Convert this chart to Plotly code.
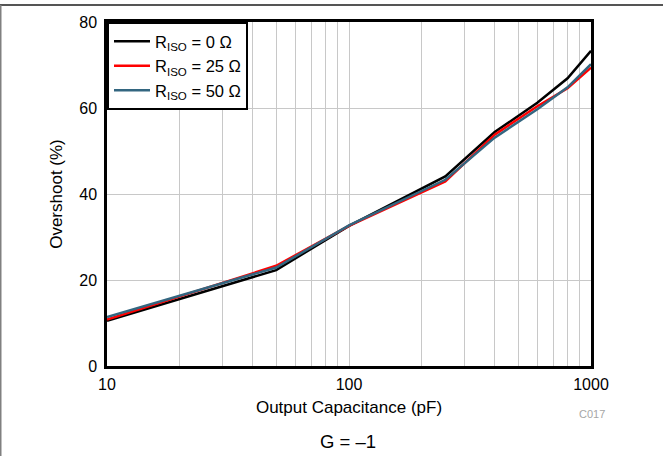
import plotly.graph_objects as go

cap_pf = [10, 50, 100, 250, 400, 600, 800, 1000]
os_r0 = [10.5, 22.3, 32.6, 44.1, 54.4, 61.2, 66.9, 73.3]
os_r25 = [10.8, 23.3, 32.6, 42.9, 53.8, 60.4, 64.6, 69.4]
os_r50 = [11.4, 22.9, 32.7, 43.3, 53.1, 59.7, 64.8, 70.2]

series_names = ["R<sub>ISO</sub> = 0 Ω", "R<sub>ISO</sub> = 25 Ω", "R<sub>ISO</sub> = 50 Ω"]
series_colors = ["#000000", "#ff0000", "#336680"]

x_major = [10, 100, 1000]
x_minor = [20, 30, 40, 50, 60, 70, 80, 90, 200, 300, 400, 500, 600, 700, 800, 900]
y_ticks = [0, 20, 40, 60, 80]

W, H = 663, 456
L, R, T, B = 107, 72, 22, 90
pw, ph = W - L - R, H - T - B

fig = go.Figure()
for ys, name, col in zip([os_r0, os_r25, os_r50], series_names, series_colors):
    fig.add_trace(go.Scatter(x=cap_pf, y=ys, mode="lines", name=name,
                             line=dict(color=col, width=2.5)))

font = "Liberation Sans, Arial, sans-serif"
fig.update_layout(
    width=W, height=H,
    margin=dict(l=L, r=R, t=T, b=B, pad=0),
    paper_bgcolor="white", plot_bgcolor="white",
    font=dict(family=font, size=16, color="black"),
    showlegend=True,
    legend=dict(x=0, y=1, xanchor="left", yanchor="top",
                bgcolor="white", bordercolor="black", borderwidth=2,
                font=dict(size=16.5), tracegroupgap=0, itemwidth=36,
                traceorder="normal"),
    xaxis=dict(type="log", range=[1, 3], tickvals=x_major, ticktext=["10", "100", "1000"],
               showgrid=True, gridcolor="#c8c8c8", gridwidth=1,
               minor=dict(tickvals=x_minor, showgrid=True, gridcolor="#c8c8c8", gridwidth=1, ticks=""),
               showline=True, linecolor="black", linewidth=2.5, mirror=True,
               ticks="", ticklen=0, tickfont=dict(size=16), ticklabelstandoff=2,
               title=dict(text="Output Capacitance (pF)", font=dict(size=17), standoff=10),
               zeroline=False),
    yaxis=dict(range=[0, 80], tickvals=y_ticks,
               showgrid=True, gridcolor="#c8c8c8", gridwidth=1,
               showline=True, linecolor="black", linewidth=2.5, mirror=True,
               ticks="", tickfont=dict(size=16), ticklabelstandoff=4,
               title=dict(text="Overshoot (%)", font=dict(size=17), standoff=13),
               zeroline=False),
)

fig.add_annotation(text="G = –1", xref="paper", yref="paper", x=(348 - L) / pw, y=-(441 - 366) / ph,
                   showarrow=False, font=dict(size=18.5), xanchor="center", yanchor="middle")
fig.add_annotation(text="C017", xref="paper", yref="paper", x=(607 - L) / pw, y=-(414 - 366) / ph,
                   showarrow=False, font=dict(size=11, color="#a6a6a6"), xanchor="right", yanchor="middle")

# outer frame lines (top and left)
fig.add_shape(type="line", xref="paper", yref="paper",
              x0=-L / pw, x1=(W - L) / pw, y0=(H - B - 5) / ph, y1=(H - B - 5) / ph,
              line=dict(color="#555555", width=2))
fig.add_shape(type="line", xref="paper", yref="paper",
              x0=-(L - 0.75) / pw, x1=-(L - 0.75) / pw, y0=(H - B - 5) / ph, y1=-(B) / ph,
              line=dict(color="#808080", width=1.5))

fig.write_html("out.html", config={"displayModeBar": False},
               post_script="document.body.style.margin='0';document.body.style.padding='0';"
                           "document.body.style.overflow='hidden';")
